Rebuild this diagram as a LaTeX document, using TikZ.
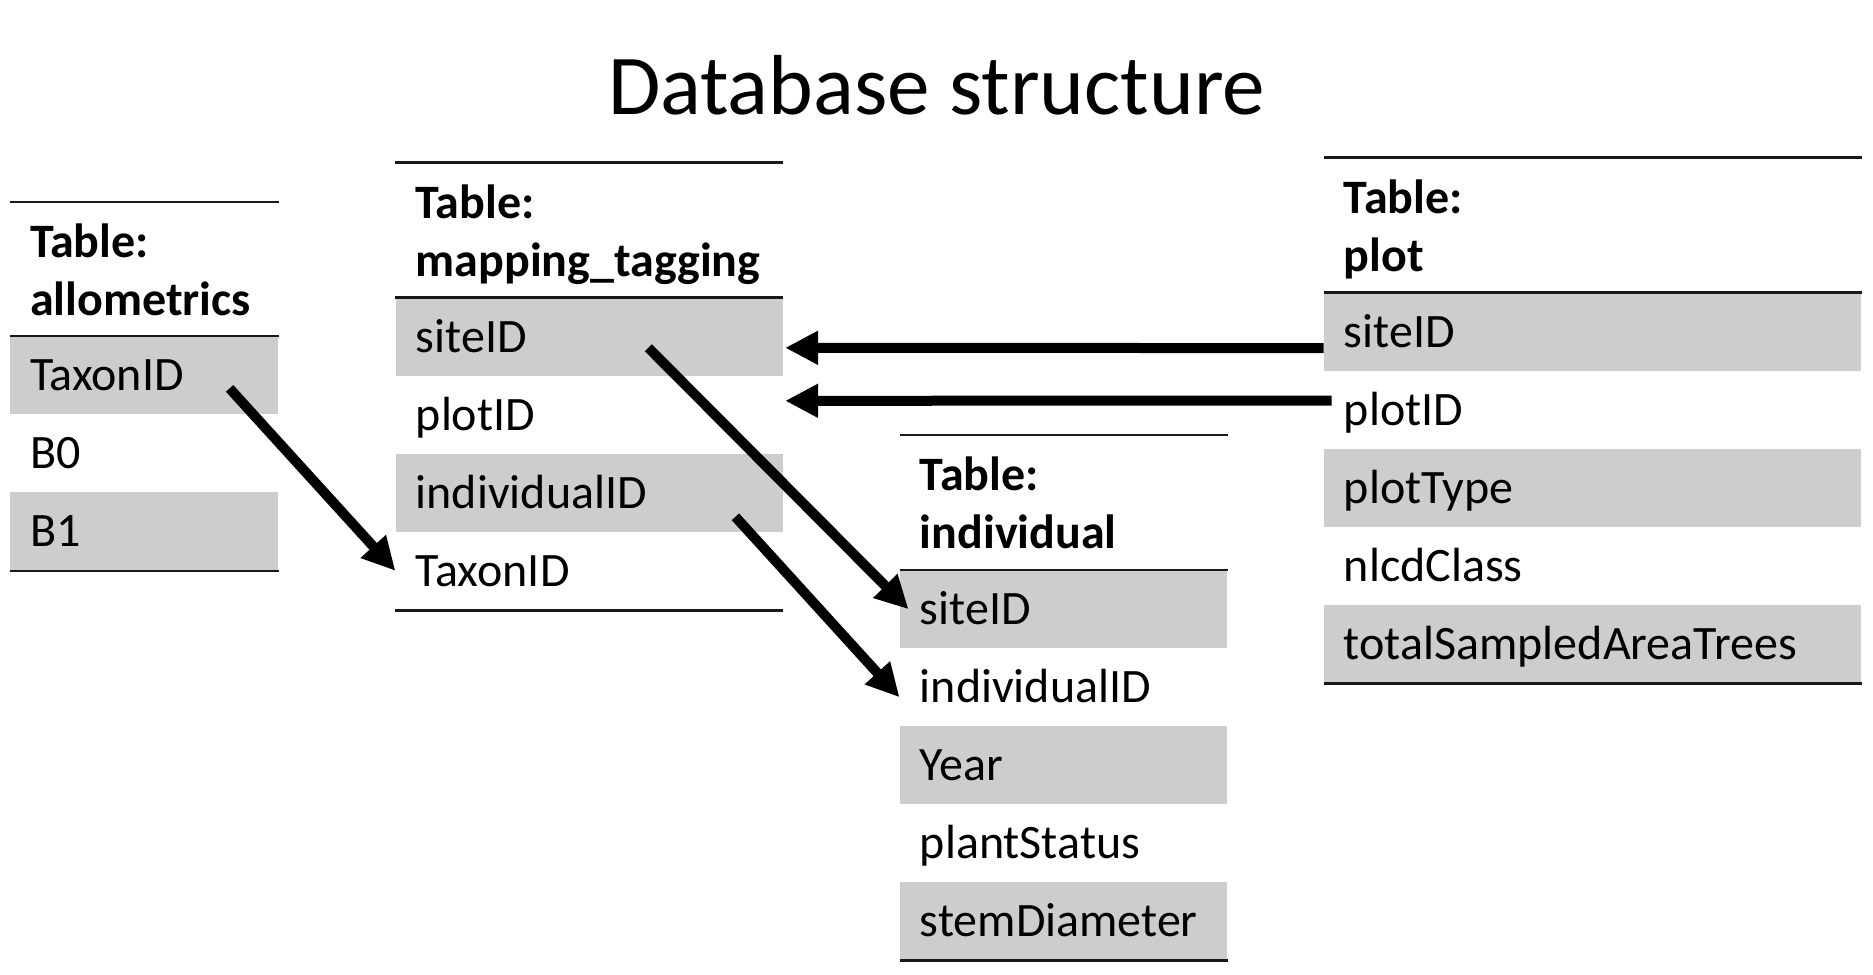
\documentclass[tikz,border=0pt]{standalone}
\usepackage{fontspec}
\setmainfont{Carlito}
\usepackage{xcolor}
\usepackage{tikz}
\usetikzlibrary{arrows.meta, positioning, calc}
\definecolor{DBGray}{RGB}{205, 205, 205}
\definecolor{DBRule}{RGB}{25, 25, 25}

\tikzset{
  field/.style={anchor=north west, minimum height=39pt, inner xsep=10pt, inner ysep=0pt,
    text height=15.5pt, text depth=0pt, align=left, font=\fontsize{24}{28}\selectfont},
  head/.style={field, minimum height=28.5pt, font=\fontsize{24}{28}\selectfont\bfseries},
  rule/.style={draw=DBRule, line width=1.3pt},
  link/.style={line width=5pt, -{Triangle[length=16.5pt, width=16pt]}}
}

\begin{document}
\begin{tikzpicture}[x=0.5pt, y=-0.5pt]
  \useasboundingbox (0,0) rectangle (1873,974);

  \node[anchor=base, inner sep=0pt, font=\fontsize{42.6}{50}\selectfont] (title) at (936.5,114) {Database structure};

  % allometrics
  \node[head, text width=114.2pt] (al-t) at (9.6,213.5) {Table:};
  \node[head, text width=114.2pt, below=0pt of al-t] (al-n) {allometrics};
  \foreach \f/\c [count=\i] in {TaxonID/DBGray, B0/none, B1/DBGray}
    \node[field, text width=114.2pt, fill=\c] (al-\i) at (9.6,{336+78*(\i-1)}) {\f};
  \draw[rule] ($(al-t.north west)+(0,-11.5)$) -- ($(al-t.north east)+(0,-11.5)$);
  \draw[rule] (al-1.north west) -- (al-1.north east);
  \draw[rule] (al-3.south west) -- (al-3.south east);

  % mapping_tagging
  \node[head, text width=173.5pt] (mt-t) at (395.4,174) {Table:};
  \node[head, text width=173.5pt, below=0pt of mt-t] (mt-n) {mapping\_tagging};
  \foreach \f/\c [count=\i] in {siteID/DBGray, plotID/none, individualID/DBGray, TaxonID/none}
    \node[field, text width=173.5pt, fill=\c] (mt-\i) at (395.4,{297.4+78*(\i-1)}) {\f};
  \draw[rule] ($(mt-t.north west)+(0,-11.5)$) -- ($(mt-t.north east)+(0,-11.5)$);
  \draw[rule] (mt-1.north west) -- (mt-1.north east);
  \draw[rule] (mt-4.south west) -- (mt-4.south east);

  % individual
  \node[head, text width=143.6pt] (ind-t) at (899.5,446.3) {Table:};
  \node[head, text width=143.6pt, below=0pt of ind-t] (ind-n) {individual};
  \foreach \f/\c [count=\i] in {siteID/DBGray, individualID/none, Year/DBGray, plantStatus/none, stemDiameter/DBGray}
    \node[field, text width=143.6pt, fill=\c] (ind-\i) at (899.5,{569.8+78*(\i-1)}) {\f};
  \draw[rule] ($(ind-t.north west)+(0,-11.5)$) -- ($(ind-t.north east)+(0,-11.5)$);
  \draw[rule] (ind-1.north west) -- (ind-1.north east);
  \draw[rule] (ind-5.south west) -- (ind-5.south east);

  % plot
  \node[head, text width=248.7pt] (pl-t) at (1323.5,169.2) {Table:};
  \node[head, text width=248.7pt, below=0pt of pl-t] (pl-n) {plot};
  \foreach \f/\c [count=\i] in {siteID/DBGray, plotID/none, plotType/DBGray, nlcdClass/none, totalSampledAreaTrees/DBGray}
    \node[field, text width=248.7pt, fill=\c] (pl-\i) at (1323.5,{292.7+78*(\i-1)}) {\f};
  \draw[rule] ($(pl-t.north west)+(0,-11.5)$) -- ($(pl-t.north east)+(0,-11.5)$);
  \draw[rule] (pl-1.north west) -- (pl-1.north east);
  \draw[rule] (pl-5.south west) -- (pl-5.south east);

  % links
  \draw[link] ($(al-1.west)+(220,13)$) -- (mt-4.west);
  \draw[link] ($(mt-1.west)+(253,11)$) -- ($(ind-1.west)+(9,0)$);
  \draw[link] ($(mt-3.west)+(340,24)$) -- ($(ind-2.west)+(0,10)$);
  \draw[link] ($(pl-1.west)+(0,16)$) -- ($(mt-1.east)+(2,11)$);
  \draw[link] ($(pl-2.west)+(8,-9.5)$) -- ($(mt-2.east)+(2,-14)$);
\end{tikzpicture}
\end{document}
